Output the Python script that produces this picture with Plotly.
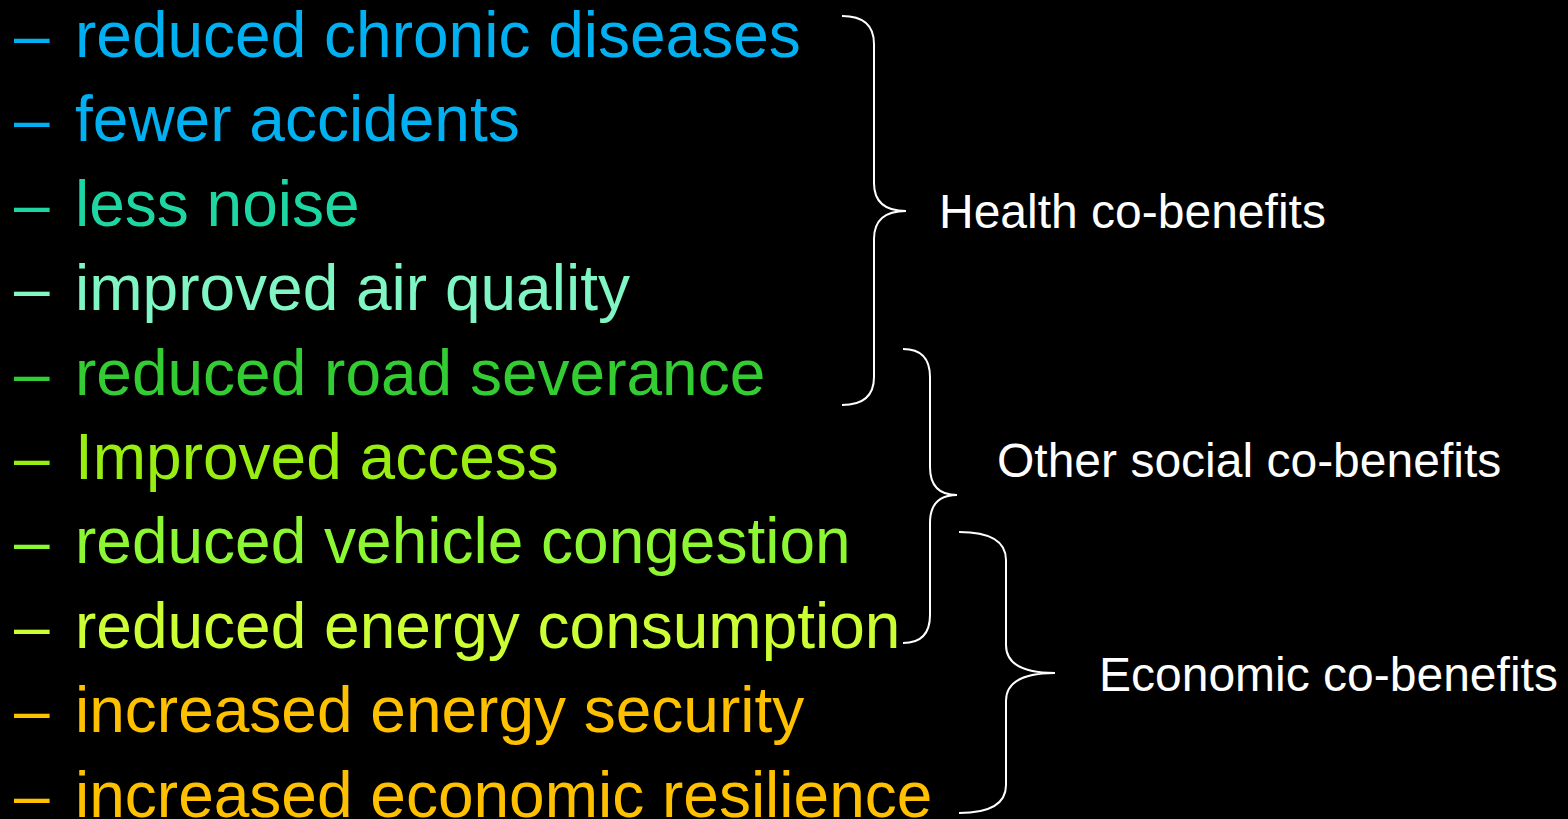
import plotly.graph_objects as go

# ---- content ----
items = [
    "reduced chronic diseases",
    "fewer accidents",
    "less noise",
    "improved air quality",
    "reduced road severance",
    "Improved access",
    "reduced vehicle congestion",
    "reduced energy consumption",
    "increased energy security",
    "increased economic resilience",
]
item_colors = [
    "#00B0F0", "#00B0F0", "#1DD6A2", "#80F6C4", "#33CC33",
    "#99EE11", "#8CF732", "#CCFF33", "#FFC000", "#FFC000",
]
group_labels = ["Health co-benefits", "Other social co-benefits", "Economic co-benefits"]

# ---- layout constants (pixels) ----
W, H = 1568, 819
FONT = "Liberation Sans, Arial, sans-serif"
row0, row_step = 35, 84.4
dash_x, text_x = 12, 73
item_size = 64
label_size = 48

# brace geometry: (x_end, x_vertical, x_tip, y_top, y_mid, y_bottom, label_x, label_y)
braces = [
    (842, 874, 906, 16, 211, 405, 937, 211),
    (903, 930, 957, 349, 495, 643, 995, 460),
    (959, 1006, 1055, 532, 673, 813, 1097, 674),
]

fig = go.Figure()
annotations = []
for i, (t, c) in enumerate(zip(items, item_colors)):
    y = row0 + i * row_step
    annotations.append(dict(x=dash_x, y=y, text="–", showarrow=False, xanchor="left",
                            yanchor="middle", font=dict(family=FONT, size=item_size, color=c)))
    annotations.append(dict(x=text_x, y=y, text=t, showarrow=False, xanchor="left",
                            yanchor="middle", font=dict(family=FONT, size=item_size, color=c)))

shapes = []
for (xe, xv, xt, yt, ym, yb, lx, ly), lab in zip(braces, group_labels):
    r = min(28, (ym - yt) / 4)
    path = (f"M {xe},{yt} Q {xv},{yt} {xv},{yt + r} L {xv},{ym - r} "
            f"Q {xv},{ym} {xt},{ym} Q {xv},{ym} {xv},{ym + r} L {xv},{yb - r} "
            f"Q {xv},{yb} {xe},{yb}")
    shapes.append(dict(type="path", path=path, xref="x", yref="y",
                       line=dict(color="white", width=2)))
    annotations.append(dict(x=lx, y=ly, text=lab, showarrow=False, xanchor="left",
                            yanchor="middle", font=dict(family=FONT, size=label_size, color="white")))

fig.update_layout(
    width=W, height=H,
    margin=dict(l=0, r=0, t=0, b=0),
    paper_bgcolor="black", plot_bgcolor="black",
    xaxis=dict(range=[0, W], visible=False, fixedrange=True),
    yaxis=dict(range=[H, 0], visible=False, fixedrange=True),
    annotations=annotations, shapes=shapes, showlegend=False,
)
fig.write_html(
    "out.html",
    config={"displayModeBar": False},
    post_script="document.body.style.margin='0';document.body.style.background='black';document.body.style.overflow='hidden';",
)
